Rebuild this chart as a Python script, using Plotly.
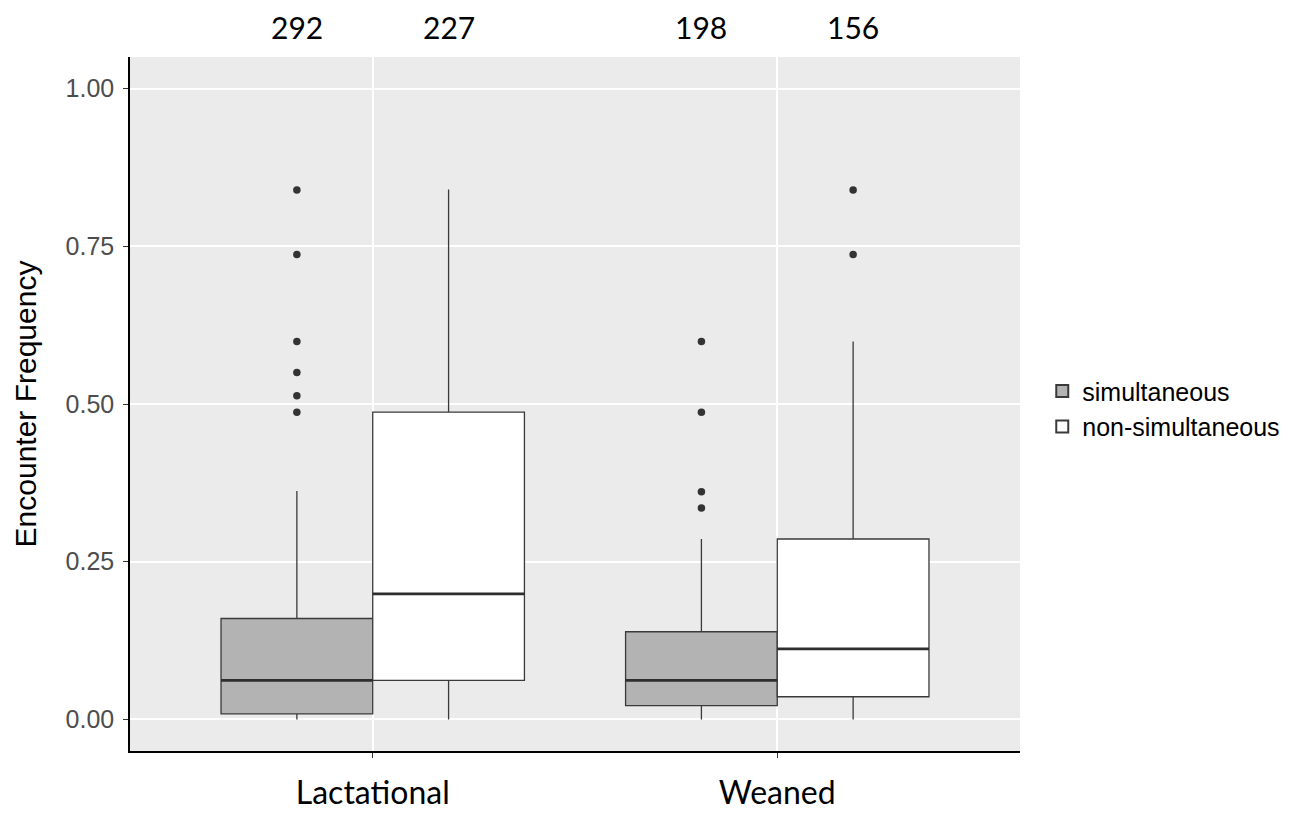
import plotly.graph_objects as go

# ---- data ----
categories = ["Lactational", "Weaned"]
series = ["simultaneous", "non-simultaneous"]
fills = ["#b3b3b3", "#ffffff"]

# box statistics per series, per category
lower_fence = {"simultaneous": [0.0, 0.0], "non-simultaneous": [0.0, 0.0]}
q1 = {"simultaneous": [0.009, 0.022], "non-simultaneous": [0.062, 0.036]}
median = {"simultaneous": [0.062, 0.062], "non-simultaneous": [0.199, 0.112]}
q3 = {"simultaneous": [0.160, 0.139], "non-simultaneous": [0.487, 0.286]}
upper_fence = {"simultaneous": [0.362, 0.286], "non-simultaneous": [0.840, 0.599]}
outliers = {
    "simultaneous": [[0.839, 0.737, 0.599, 0.550, 0.513, 0.487],
                     [0.599, 0.487, 0.361, 0.335]],
    "non-simultaneous": [[], [0.839, 0.737]],
}
counts = {"simultaneous": [292, 198], "non-simultaneous": [227, 156]}

y_ticks = [0.0, 0.25, 0.5, 0.75, 1.0]
y_tick_text = ["0.00", "0.25", "0.50", "0.75", "1.00"]

# ---- layout helpers ----
dodge = 0.75            # total width of a category group
bw = dodge / len(series)  # width of each box
offsets = [-bw / 2, bw / 2]

fig = go.Figure()

for s, name in enumerate(series):
    xs = [i + 1 + offsets[s] for i in range(len(categories))]
    fig.add_trace(go.Box(
        x=xs, q1=q1[name], median=median[name], q3=q3[name],
        lowerfence=lower_fence[name], upperfence=upper_fence[name],
        width=bw, whiskerwidth=0, name=name,
        fillcolor=fills[s], line=dict(color="#3a3a3a", width=1.3),
        boxpoints=False, showlegend=True,
    ))

for s, name in enumerate(series):
    xs = [i + 1 + offsets[s] for i in range(len(categories))]
    # thicker median segment (ggplot style)
    mx, my = [], []
    for i, x in enumerate(xs):
        mx += [x - bw / 2, x + bw / 2, None]
        my += [median[name][i], median[name][i], None]
    fig.add_trace(go.Scatter(x=mx, y=my, mode="lines",
                             line=dict(color="#2e2e2e", width=2.8),
                             showlegend=False, hoverinfo="skip"))
    # outliers
    ox, oy = [], []
    for i, x in enumerate(xs):
        ox += [x] * len(outliers[name][i])
        oy += outliers[name][i]
    fig.add_trace(go.Scatter(x=ox, y=oy, mode="markers",
                             marker=dict(color="#333333", size=7.5),
                             showlegend=False, hoverinfo="skip"))
    # counts above the panel
    for i, x in enumerate(xs):
        fig.add_annotation(x=x, y=1.043, xref="x", yref="paper",
                           text=str(counts[name][i]), showarrow=False,
                           font=dict(family="Lato", size=30, color="#000000"),
                           yanchor="middle", xanchor="center")

fig.update_layout(
    width=1305, height=814,
    margin=dict(l=130, r=285, t=57, b=63),
    paper_bgcolor="#ffffff", plot_bgcolor="#ebebeb",
    boxmode="overlay",
    font=dict(family="Liberation Sans", color="#4d4d4d"),
    legend=dict(x=1.025, y=0.493, xanchor="left", yanchor="middle",
                font=dict(family="Liberation Sans", size=25, color="#000000"),
                bgcolor="rgba(0,0,0,0)", tracegroupgap=0, itemsizing="constant"),
)

fig.update_xaxes(
    range=[0.4, 2.6], tickmode="array",
    tickvals=[i + 1 for i in range(len(categories))], ticktext=categories,
    tickfont=dict(family="Lato", size=32, color="#000000"),
    ticks="outside", ticklen=5, tickwidth=1.3, tickcolor="#333333",
    showgrid=True, gridcolor="#ffffff", gridwidth=1.5,
    showline=True, linecolor="#000000", linewidth=1.5,
    zeroline=False, ticklabelstandoff=8, automargin=False,
)
fig.update_yaxes(
    range=[-0.05, 1.05], tickmode="array", tickvals=y_ticks, ticktext=y_tick_text,
    tickfont=dict(family="Liberation Sans", size=25, color="#4d4d4d"),
    ticks="outside", ticklen=5, tickwidth=1.3, tickcolor="#333333",
    showgrid=True, gridcolor="#ffffff", gridwidth=1.5,
    showline=True, linecolor="#000000", linewidth=1.5,
    zeroline=False, ticklabelstandoff=4, automargin=False,
    title=dict(text="Encounter Frequency", standoff=20,
               font=dict(family="Liberation Sans", size=30, color="#000000")),
)

fig.write_html("out.html")
